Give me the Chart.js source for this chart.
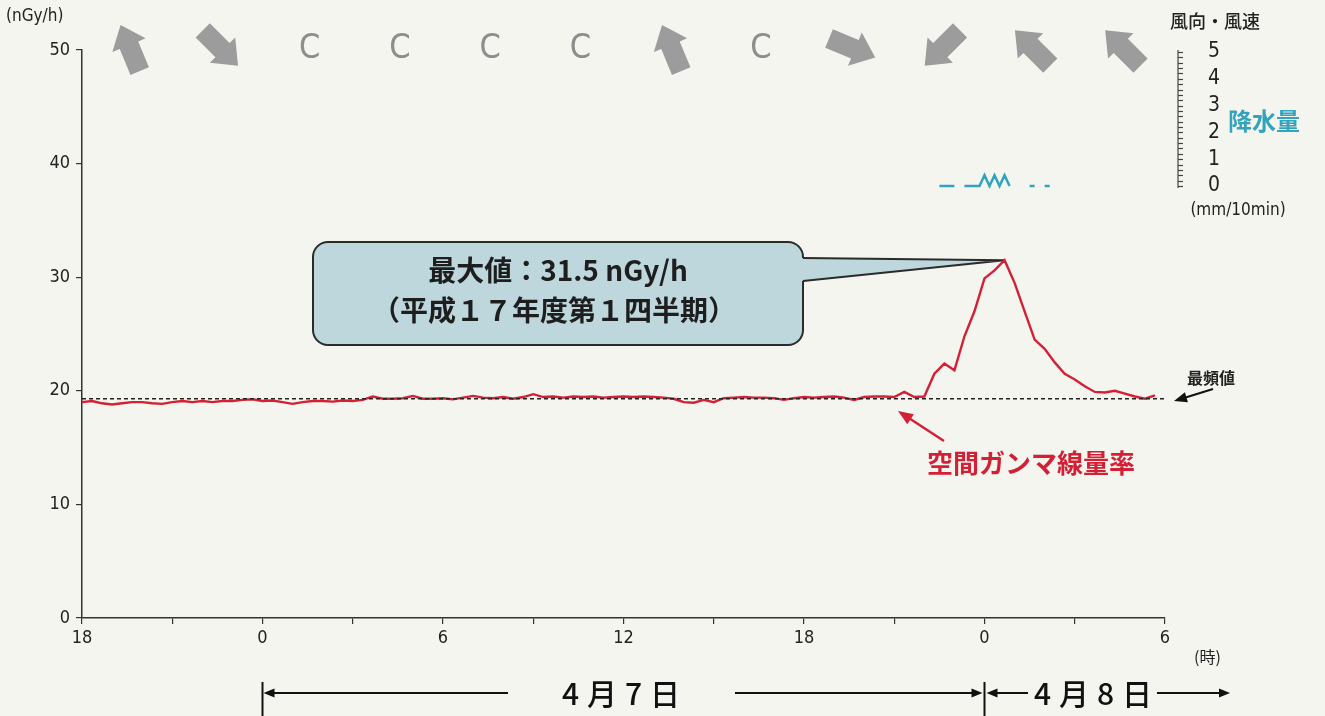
<!DOCTYPE html>
<html lang="ja">
<head>
<meta charset="utf-8">
<title>空間ガンマ線量率</title>
<script src="https://cdn.jsdelivr.net/npm/chart.js@4.4.1/dist/chart.umd.min.js"></script>
<style>
  html, body { margin: 0; padding: 0; background: #f5f5f0; }
  #wrap { position: relative; width: 1325px; height: 716px; }
</style>
</head>
<body>
<div id="wrap"><canvas id="c" width="1325" height="716"></canvas></div>
<script>
// Time axis: hours counted from 4/6 18:00 (0) to 4/8 6:00 (36)
const hourTickLabels = ['18', '0', '6', '12', '18', '0', '6'];

// Air gamma dose rate (nGy/h), 20-minute readings starting at hour 0
const gammaStepHours = 1 / 3;
const gammaRate = [
  19.0, 19.1, 18.9,   18.8, 18.9, 19.0,   19.0, 18.9, 18.85,  19.0, 19.1, 19.0,
  19.1, 19.0, 19.1,   19.1, 19.2, 19.25,  19.1, 19.15, 19.0,  18.85, 19.0, 19.1,
  19.1, 19.05, 19.15, 19.1, 19.2, 19.5,   19.3, 19.3, 19.35,  19.55, 19.3, 19.3,
  19.35, 19.25, 19.4, 19.55, 19.4, 19.35, 19.45, 19.3, 19.45, 19.7, 19.45, 19.5,
  19.4, 19.5, 19.45,  19.5, 19.4, 19.45,  19.5, 19.45, 19.5,  19.45, 19.4, 19.3,
  19.0, 18.95, 19.2,  19.0, 19.35, 19.4,  19.45, 19.4, 19.4,  19.35, 19.2, 19.35,
  19.45, 19.4, 19.45, 19.5, 19.4, 19.2,   19.45, 19.5, 19.5,  19.45, 19.9, 19.45,
  19.5, 21.5, 22.4,   21.8, 24.8, 27.0,   29.9, 30.6, 31.5,   29.5, 27.0, 24.5,
  23.7, 22.5, 21.5,   21.0, 20.4, 19.9,   19.85, 20.0, 19.75, 19.5, 19.3, 19.6
];

// Most frequent value of the dose rate (nGy/h)
const modeRate = 19.3;

// Precipitation (mm/10min), 10-minute readings; null = no record
const rainStartHour = 28.5;
const rainStepHours = 1 / 6;
const rainAmount = [0, 0, 0, 0, null, 0, 0, 0, 0, 0.4, 0, 0.4, 0, 0.4, 0, null, null, null, 0, 0, null, 0, 0];
const rainTicks = [0, 1, 2, 3, 4, 5];

// Wind direction every 3 hours: bearing the arrow points to (deg), null = calm
const windHours = [1.5, 4.5, 7.5, 10.5, 13.5, 16.5, 19.5, 22.5, 25.5, 28.5, 31.5, 34.5];
const windBearing = [337.5, 135, null, null, null, null, 337.5, null, 112.5, 225, 315, 315];
const calmMark = 'C';

const dayLabels = ['4月7日', '4月8日'];
const periodNote = '（平成１７年度第１四半期）';

const narrow = "'Liberation Sans Narrow', 'DejaVu Sans Condensed', 'Liberation Sans', sans-serif";
const jp = "'Noto Sans CJK JP', 'Noto Sans', sans-serif";

const gammaPoints = gammaRate.map((v, i) => ({ x: i * gammaStepHours, y: v }));
const rainPoints = rainAmount.map((v, i) => ({ x: rainStartHour + i * rainStepHours, y: v }));
const modePoints = [{ x: 0, y: modeRate }, { x: 36, y: modeRate }];

function arrowLine(ctx, x1, y1, x2, y2, head, width, color) {
  const a = Math.atan2(y2 - y1, x2 - x1);
  ctx.save();
  ctx.strokeStyle = color; ctx.fillStyle = color; ctx.lineWidth = width;
  ctx.beginPath();
  ctx.moveTo(x1, y1);
  ctx.lineTo(x2 - Math.cos(a) * head * 0.8, y2 - Math.sin(a) * head * 0.8);
  ctx.stroke();
  ctx.beginPath();
  ctx.moveTo(x2, y2);
  ctx.lineTo(x2 - head * Math.cos(a) + head * 0.4 * Math.sin(a), y2 - head * Math.sin(a) - head * 0.4 * Math.cos(a));
  ctx.lineTo(x2 - head * Math.cos(a) - head * 0.4 * Math.sin(a), y2 - head * Math.sin(a) + head * 0.4 * Math.cos(a));
  ctx.closePath();
  ctx.fill();
  ctx.restore();
}

function blockArrow(ctx, cx, cy, bearing) {
  const L = 50, headLen = 22, headHalf = 18, shaftHalf = 10;
  ctx.save();
  ctx.translate(cx, cy);
  ctx.rotate(bearing * Math.PI / 180);
  ctx.fillStyle = '#9c9c9c';
  ctx.beginPath();
  ctx.moveTo(0, -L / 2);
  ctx.lineTo(headHalf, -L / 2 + headLen);
  ctx.lineTo(shaftHalf, -L / 2 + headLen);
  ctx.lineTo(shaftHalf, L / 2);
  ctx.lineTo(-shaftHalf, L / 2);
  ctx.lineTo(-shaftHalf, -L / 2 + headLen);
  ctx.lineTo(-headHalf, -L / 2 + headLen);
  ctx.closePath();
  ctx.fill();
  ctx.restore();
}

function roundRectPath(ctx, x, y, w, h, r) {
  ctx.beginPath();
  ctx.moveTo(x + r, y);
  ctx.lineTo(x + w - r, y);
  ctx.arcTo(x + w, y, x + w, y + r, r);
  ctx.lineTo(x + w, y + h - r);
  ctx.arcTo(x + w, y + h, x + w - r, y + h, r);
  ctx.lineTo(x + r, y + h);
  ctx.arcTo(x, y + h, x, y + h - r, r);
  ctx.lineTo(x, y + r);
  ctx.arcTo(x, y, x + r, y, r);
  ctx.closePath();
}

const decor = {
  id: 'decor',
  beforeDraw(chart) {
    const ctx = chart.ctx;
    ctx.save();
    ctx.fillStyle = '#f5f5f0';
    ctx.fillRect(0, 0, chart.width, chart.height);
    ctx.restore();
  },
  beforeDatasetsDraw(chart) {
    // callout pointing at the maximum
    const ctx = chart.ctx, xs = chart.scales.x, ys = chart.scales.y;
    let iMax = 0;
    gammaRate.forEach((v, i) => { if (v > gammaRate[iMax]) iMax = i; });
    const px = xs.getPixelForValue(iMax * gammaStepHours);
    const py = ys.getPixelForValue(gammaRate[iMax]);
    const bx = 313, by = 242, bw = 490, bh = 103;
    const tTop = 258, tBot = 281;
    ctx.save();
    ctx.fillStyle = '#bdd7dd';
    ctx.strokeStyle = '#2b2b2b';
    ctx.lineWidth = 2;
    roundRectPath(ctx, bx, by, bw, bh, 15);
    ctx.fill();
    ctx.stroke();
    ctx.beginPath();
    ctx.moveTo(bx + bw - 1, tTop);
    ctx.lineTo(px, py);
    ctx.lineTo(bx + bw - 1, tBot);
    ctx.closePath();
    ctx.fill();
    ctx.fillRect(bx + bw - 3, tTop + 1, 5, tBot - tTop - 2);
    ctx.beginPath();
    ctx.moveTo(bx + bw, tTop);
    ctx.lineTo(px, py);
    ctx.lineTo(bx + bw, tBot);
    ctx.stroke();
    ctx.fillStyle = '#1e1e1e';
    ctx.textAlign = 'center';
    ctx.textBaseline = 'middle';
    ctx.font = 'bold 28px ' + jp;
    ctx.fillText('最大値：' + gammaRate[iMax].toFixed(1) + ' nGy/h', bx + bw / 2, 270);
    ctx.fillText(periodNote, bx + bw / 2 - 4, 310);
    ctx.restore();
  },
  afterDraw(chart) {
    const ctx = chart.ctx, xs = chart.scales.x, rs = chart.scales.yRain;
    ctx.save();

    // wind row
    windHours.forEach((h, i) => {
      const cx = xs.getPixelForValue(h);
      if (windBearing[i] === null) {
        ctx.fillStyle = '#8d8d8d';
        ctx.font = '34px ' + narrow;
        ctx.textAlign = 'center';
        ctx.textBaseline = 'middle';
        ctx.fillText(calmMark, cx + 2, 49);
      } else {
        blockArrow(ctx, cx + 3, 48, windBearing[i]);
      }
    });

    // precipitation ruler
    const rx = 1178;
    ctx.strokeStyle = '#444';
    ctx.lineWidth = 1.2;
    ctx.beginPath();
    ctx.moveTo(rx, rs.getPixelForValue(0) + 2);
    ctx.lineTo(rx, rs.getPixelForValue(5) - 2);
    ctx.stroke();
    for (let k = 0; k <= 25; k++) {
      const y = Math.round(rs.getPixelForValue(k * 0.2)) + 0.5;
      ctx.beginPath();
      ctx.moveTo(rx, y);
      ctx.lineTo(rx + 5, y);
      ctx.stroke();
    }
    ctx.fillStyle = '#222';
    ctx.font = '21px ' + narrow;
    ctx.textAlign = 'center';
    ctx.textBaseline = 'middle';
    rainTicks.forEach(v => ctx.fillText(String(v), 1214, rs.getPixelForValue(v)));
    ctx.font = '17px ' + narrow;
    ctx.fillText('(mm/10min)', 1238, 211);
    ctx.font = '500 18px ' + jp;
    ctx.fillText('風向・風速', 1215, 21);
    ctx.fillStyle = '#34a3bd';
    ctx.font = 'bold 24px ' + jp;
    ctx.textAlign = 'left';
    ctx.fillText('降水量', 1228, 121);

    // unit labels
    ctx.fillStyle = '#222';
    ctx.font = '17px ' + narrow;
    ctx.fillText('(nGy/h)', 6, 17);
    ctx.font = '16px ' + jp;
    ctx.fillText('(時)', 1194, 657);

    // mode label
    ctx.font = 'bold 16px ' + jp;
    ctx.fillText('最頻値', 1187, 378);
    arrowLine(ctx, 1213, 389, 1174, 401, 13, 2, '#111');

    // dose rate label
    ctx.fillStyle = '#d42035';
    ctx.font = 'bold 26px ' + jp;
    ctx.textAlign = 'center';
    ctx.fillText('空間ガンマ線量率', 1031, 463);
    arrowLine(ctx, 944, 441, 898, 411, 15, 2.5, '#d42035');

    // day spans
    const d0 = xs.getPixelForValue(6), d1 = xs.getPixelForValue(30);
    const ay = 693;
    ctx.strokeStyle = '#111';
    ctx.lineWidth = 2;
    [d0, d1].forEach(x => {
      ctx.beginPath();
      ctx.moveTo(x, 682);
      ctx.lineTo(x, 716);
      ctx.stroke();
    });
    arrowLine(ctx, 508, ay, d0 + 1, ay, 11, 2, '#111');
    arrowLine(ctx, 735, ay, d1 - 2, ay, 11, 2, '#111');
    arrowLine(ctx, 1028, ay, d1 + 2, ay, 11, 2, '#111');
    arrowLine(ctx, 1157, ay, 1230, ay, 11, 2, '#111');
    ctx.fillStyle = '#111';
    ctx.font = '500 30px ' + jp;
    ctx.textAlign = 'center';
    ctx.textBaseline = 'middle';
    try { ctx.letterSpacing = '8px'; } catch (e) {}
    ctx.fillText(dayLabels[0], 625, ay + 1);
    ctx.fillText(dayLabels[1], 1097, ay + 1);
    ctx.restore();
  }
};

new Chart(document.getElementById('c'), {
  type: 'line',
  data: {
    datasets: [
      {
        label: '最頻値',
        data: modePoints,
        borderColor: '#222',
        borderWidth: 1.5,
        borderDash: [4, 3],
        pointRadius: 0
      },
      {
        label: '空間ガンマ線量率',
        data: gammaPoints,
        borderColor: '#d42035',
        borderWidth: 2.4,
        pointRadius: 0,
        tension: 0
      },
      {
        label: '降水量',
        data: rainPoints,
        yAxisID: 'yRain',
        borderColor: '#34a3bd',
        borderWidth: 2.5,
        pointRadius: 0,
        spanGaps: false,
        tension: 0
      }
    ]
  },
  options: {
    responsive: false,
    animation: false,
    devicePixelRatio: 1,
    layout: { padding: { top: 50, right: 160, left: 0, bottom: 0 } },
    plugins: { legend: { display: false }, tooltip: { enabled: false } },
    scales: {
      x: {
        type: 'linear',
        min: 0,
        max: 36,
        border: { color: '#333', width: 1.5 },
        grid: { drawOnChartArea: false, color: '#333', lineWidth: 1.2, tickLength: 6 },
        ticks: {
          stepSize: 3,
          autoSkip: false,
          maxRotation: 0,
          padding: 4,
          color: '#222',
          font: { family: narrow, size: 18 },
          callback: v => (v % 6 === 0 ? hourTickLabels[v / 6] : '')
        },
        afterFit: s => { s.height = 98; }
      },
      y: {
        min: 0,
        max: 50,
        border: { color: '#333', width: 1.5 },
        grid: { drawOnChartArea: false, color: '#333', lineWidth: 1.2, tickLength: 6 },
        ticks: { stepSize: 10, padding: 6, color: '#222', font: { family: narrow, size: 18 } },
        afterFit: s => { s.width = 82; }
      },
      yRain: {
        display: false,
        position: 'right',
        min: -16.12,
        max: 5.075
      }
    }
  },
  plugins: [decor]
});
</script>
</body>
</html>
